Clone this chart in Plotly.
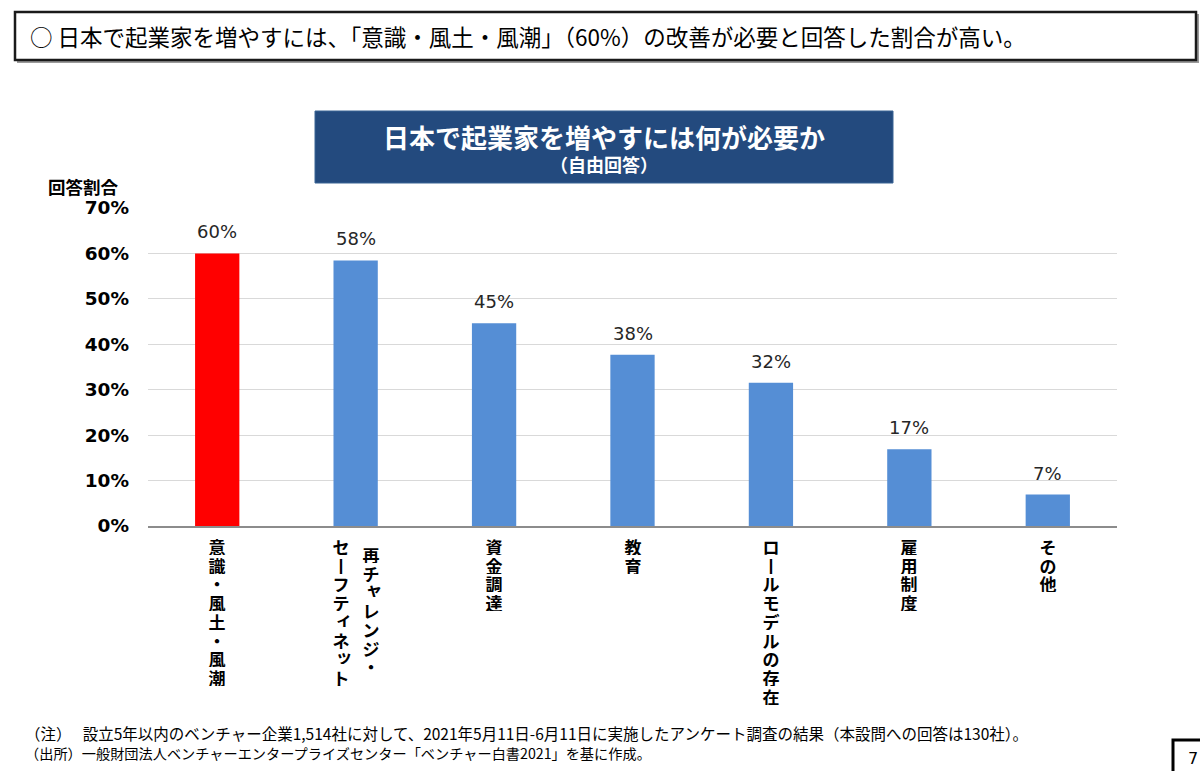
import plotly.graph_objects as go

# ---- data ----
categories = ["意識・風土・風潮", "再チャレンジ・セーフティネット", "資金調達", "教育",
              "ロールモデルの存在", "雇用制度", "その他"]
label_columns = [["意識・風土・風潮"], ["再チャレンジ・", "セーフティネット"], ["資金調達"], ["教育"],
                 ["ロールモデルの存在"], ["雇用制度"], ["その他"]]
values = [60.0, 58.46, 44.62, 37.69, 31.54, 16.92, 6.92]
bar_colors = ["#FF0000", "#558ED5", "#558ED5", "#558ED5", "#558ED5", "#558ED5", "#558ED5"]
y_ticks = [0, 10, 20, 30, 40, 50, 60, 70]
y_tick_labels = [f"{v}%" for v in y_ticks]

headline = "○ 日本で起業家を増やすには、「意識・風土・風潮」（60%）の改善が必要と回答した割合が高い。"
title_main = "日本で起業家を増やすには何が必要か"
title_sub = "（自由回答）"
y_title = "回答割合"
note1 = "（注）　 設立5年以内のベンチャー企業1,514社に対して、2021年5月11日-6月11日に実施したアンケート調査の結果（本設問への回答は130社）。"
note2 = "（出所）一般財団法人ベンチャーエンタープライズセンター「ベンチャー白書2021」を基に作成。"
page_no = "7"

JP = "Noto Sans CJK JP"
NUM = "DejaVu Sans"

fig = go.Figure()
fig.add_trace(go.Bar(
    x=categories, y=values,
    marker=dict(color=bar_colors, line=dict(width=0)),
    width=0.32,
    hoverinfo="skip",
))

annotations = []
# value labels above bars
for cat, v in zip(categories, values):
    annotations.append(dict(
        x=cat, y=v, xref="x", yref="y", text=f"{v:.0f}%", showarrow=False,
        xanchor="center", yanchor="bottom", yshift=9,
        font=dict(family=NUM, size=18, color="#262626"),
    ))

# vertical category labels, one glyph per annotation for tight vertical pitch
PITCH = 18.7
SMALL = "ャィッョュァ"
for cat, cols in zip(categories, label_columns):
    n = len(cols)
    for i, col in enumerate(cols):
        offset = (n - 1) / 2 - i  # right-to-left columns
        top = 10 + (8 if (n > 1 and i == 0) else 0)
        for k, ch in enumerate(col):
            glyph = "丨" if ch == "ー" else ch
            dx, dy = (3, 3) if ch in SMALL else (0, 0)
            annotations.append(dict(
                x=cat, y=0, xref="x", yref="paper",
                xshift=offset * 30 + dx, yshift=-(top + k * PITCH) + dy,
                text="<b>" + glyph + "</b>", height=18, width=22,
                showarrow=False, xanchor="center", yanchor="top", borderpad=0,
                font=dict(family=JP, size=17, color="#000000"),
            ))

fig.update_layout(
    width=1200, height=771,
    margin=dict(l=148, r=83, t=208, b=245),
    paper_bgcolor="white", plot_bgcolor="white",
    showlegend=False,
    xaxis=dict(
        showticklabels=False, showgrid=False, zeroline=False,
        showline=True, linecolor="#8C8C8C", linewidth=2, ticks="",
        fixedrange=True,
    ),
    yaxis=dict(
        range=[0, 70], tickvals=y_ticks, ticktext=["<b>" + t + "</b>" for t in y_tick_labels],
        tickfont=dict(family=NUM, size=18.5, color="#000000"),
        showgrid=True, gridcolor="#D9D9D9", gridwidth=1,
        zeroline=False, showline=False, ticks="", ticklabelstandoff=18,
        fixedrange=True,
    ),
)

# paper-coordinate helpers
W, H = 1200, 771
L, R, T, B = 148, 83, 208, 245
pw, ph = W - L - R, H - T - B


def px(x):
    return (x - L) / pw


def py(y):
    return (H - B - y) / ph


shapes = [
    dict(type="rect", xref="paper", yref="paper", x0=px(17), x1=px(1199), y0=py(63), y1=py(14),
         line=dict(width=0), fillcolor="#9A9A9A", layer="below"),
    dict(type="rect", xref="paper", yref="paper", x0=px(15), x1=px(1196), y0=py(60), y1=py(12),
         line=dict(color="#1A1A1A", width=2.5), fillcolor="white", layer="below"),
    dict(type="rect", xref="paper", yref="paper", x0=px(315), x1=px(893), y0=py(183), y1=py(111),
         line=dict(color="#3A6494", width=1), fillcolor="#234A7E"),
    dict(type="rect", xref="paper", yref="paper", x0=px(1173), x1=px(1205), y0=py(780), y1=py(740),
         line=dict(color="#000000", width=3), fillcolor="white"),
]
fig.update_layout(shapes=shapes)

annotations += [
    dict(x=px(28), y=py(36), xref="paper", yref="paper", text=headline, showarrow=False,
         xanchor="left", yanchor="middle", font=dict(family=JP, size=22.5, color="#000000")),
    dict(x=px(604), y=py(136), xref="paper", yref="paper", text="<b>" + title_main + "</b>",
         showarrow=False, xanchor="center", yanchor="middle",
         font=dict(family=JP, size=26, color="#FFFFFF")),
    dict(x=px(604), y=py(164), xref="paper", yref="paper", text="<b>" + title_sub + "</b>",
         showarrow=False, xanchor="center", yanchor="middle",
         font=dict(family=JP, size=18, color="#FFFFFF")),
    dict(x=px(46), y=py(187), xref="paper", yref="paper", text="<b>" + y_title + "</b>",
         showarrow=False, xanchor="left", yanchor="middle",
         font=dict(family=JP, size=17.5, color="#000000")),
    dict(x=px(23), y=py(733), xref="paper", yref="paper", text=note1,
         showarrow=False, xanchor="left", yanchor="middle",
         font=dict(family=JP, size=15.5, color="#000000")),
    dict(x=px(23), y=py(753), xref="paper", yref="paper", text=note2,
         showarrow=False, xanchor="left", yanchor="middle",
         font=dict(family=JP, size=14.2, color="#000000")),
    dict(x=px(1186), y=py(758), xref="paper", yref="paper", text=page_no,
         showarrow=False, xanchor="left", yanchor="middle",
         font=dict(family=NUM, size=16, color="#000000")),
]
fig.update_layout(annotations=annotations)

fig.write_html("out.html", config={"displayModeBar": False},
               post_script="document.body.style.margin='0';document.body.style.overflow='hidden';")
